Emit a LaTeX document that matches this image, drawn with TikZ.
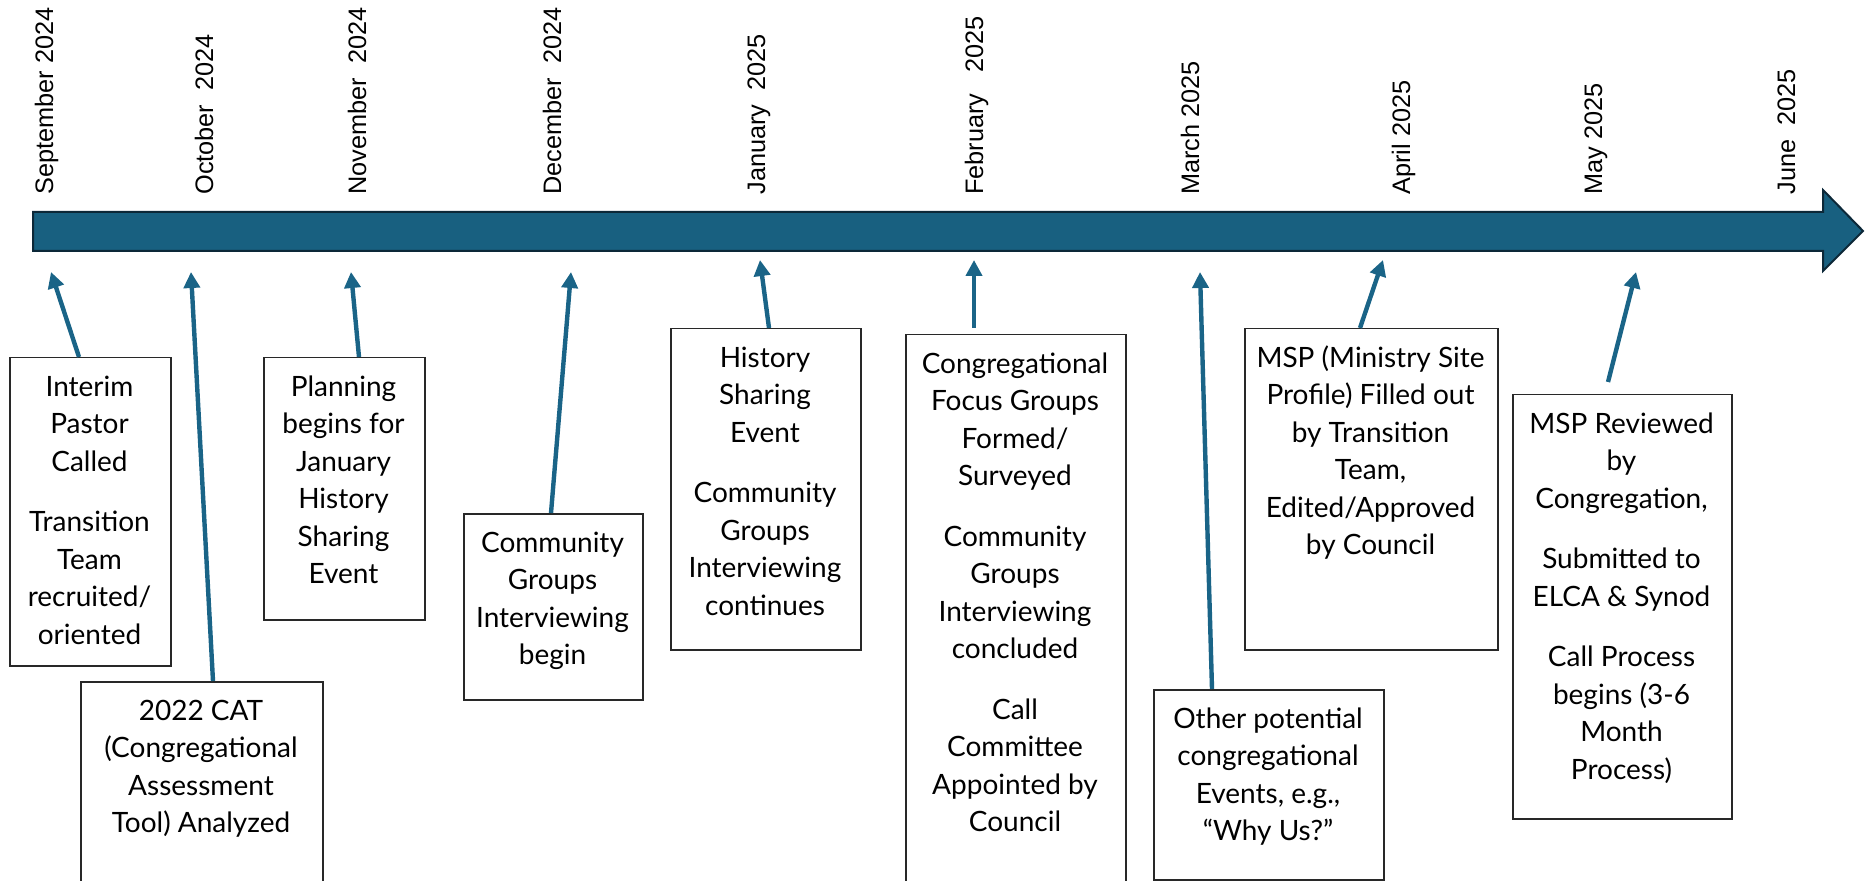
\documentclass[tikz,border=0pt]{standalone}
\usepackage{fontspec}
\setmainfont{Lato}
\newfontfamily\monthfont{Liberation Sans}
\usetikzlibrary{arrows.meta}
\definecolor{shaftfill}{RGB}{24,96,128}
\definecolor{shaftline}{RGB}{12,40,56}
\definecolor{connc}{RGB}{26,100,135}
\definecolor{boxline}{RGB}{40,40,40}
\newcommand\fl{\rule{0pt}{16pt}}
\tikzset{
  x=0.5pt, y=-0.5pt,
  month/.style={rotate=90, anchor=base west, inner sep=0pt, font=\monthfont\fontsize{12.65pt}{15pt}\selectfont},
  evbox/.style={draw=boxline, line width=0.75pt, anchor=north west, inner sep=0pt},
  evtxt/.style={anchor=north, inner sep=0pt, align=center, font=\fontsize{14pt}{18.75pt}\selectfont},
  conn/.style={draw=connc, line width=2.2pt, -{Triangle[length=8pt,width=8pt]}},
}
\begin{document}
\begin{tikzpicture}
\useasboundingbox (0,0) rectangle (1872,881);
\clip (0,0) rectangle (1872,881);
% timeline shaft
\draw[fill=shaftfill, draw=shaftline, line width=1pt, line join=miter]
  (33,212) -- (1823,212) -- (1823,190) -- (1863,231) -- (1823,271) -- (1823,251) -- (33,251) -- cycle;
% months
\node[month] (m1) at (53,195) {September 2024};
\node[month] (m2) at (213,195) {October~~2024};
\node[month] (m3) at (366,195) {November~~2024};
\node[month] (m4) at (561,195) {December~~2024};
\node[month] (m5) at (765,195) {January~~2025};
\node[month] (m6) at (983,195) {February~~~2025};
\node[month] (m7) at (1199,195) {March 2025};
\node[month] (m8) at (1410,195) {April 2025};
\node[month] (m9) at (1602,195) {May 2025};
\node[month] (m10) at (1795,195) {June~~2025};
% tips on the shaft
\coordinate (t1) at (51,272);
\coordinate (t2) at (191,272);
\coordinate (t3) at (351,272);
\coordinate (t4) at (571,272);
\coordinate (t5) at (760,260);
\coordinate (t6) at (974,260);
\coordinate (t7) at (1200,272);
\coordinate (t8) at (1383,260);
\coordinate (t9) at (1636,272);
% boxes
\node[evbox, minimum width=80.5pt, minimum height=154pt] (b1) at (9,357) {};
\node[evtxt] (x1) at (89.5,364) {\fl Interim\\Pastor\\Called\\[11.5pt]Transition\\Team\\recruited/\\oriented};
\node[evbox, minimum width=121pt, minimum height=109.5pt] (b2) at (80,681) {};
\node[evtxt] (x2) at (201,688) {\fl 2022 CAT\\(Congregational\\Assessment\\Tool) Analyzed};
\node[evbox, minimum width=80.5pt, minimum height=131pt] (b3) at (263,357) {};
\node[evtxt] (x3) at (343.5,364) {\fl Planning\\begins for\\January\\History\\Sharing\\Event};
\node[evbox, minimum width=89.5pt, minimum height=93pt] (b4) at (463,513) {};
\node[evtxt] (x4) at (552.5,520) {\fl Community\\Groups\\Interviewing\\begin};
\node[evbox, minimum width=95pt, minimum height=160.5pt] (b5) at (670,328) {};
\node[evtxt] (x5) at (765,335) {\fl History\\Sharing\\Event\\[11.5pt]Community\\Groups\\Interviewing\\continues};
\node[evbox, minimum width=110pt, minimum height=283pt] (b6) at (905,334) {};
\node[evtxt] (x6) at (1015,341) {\fl Congregational\\Focus Groups\\Formed/\\Surveyed\\[11.5pt]Community\\Groups\\Interviewing\\concluded\\[11.5pt]Call\\Committee\\Appointed by\\Council};
\node[evbox, minimum width=115pt, minimum height=95pt] (b7) at (1153,689) {};
\node[evtxt] (x7) at (1268,696) {\fl Other potential\\congregational\\Events, e.g.,\\“Why Us?”};
\node[evbox, minimum width=126.5pt, minimum height=160.5pt] (b8) at (1244,328) {};
\node[evtxt] (x8) at (1370.5,335) {\fl MSP (Ministry Site\\Profile) Filled out\\by Transition\\Team,\\Edited/Approved\\by Council};
\node[evbox, minimum width=109.5pt, minimum height=212pt] (b9) at (1512,394) {};
\node[evtxt] (x9) at (1621.5,401) {\fl MSP Reviewed\\by\\Congregation,\\[11.5pt]Submitted to\\ELCA \& Synod\\[11.5pt]Call Process\\begins (3-6\\Month\\Process)};
% connectors
\draw[conn] (79,0 |- b1.north) -- (t1);
\draw[conn] (213,0 |- b2.north) -- (t2);
\draw[conn] (359,0 |- b3.north) -- (t3);
\draw[conn] (551,0 |- b4.north) -- (t4);
\draw[conn] (769,0 |- b5.north) -- (t5);
\draw[conn] ([yshift=3pt]974,0 |- b6.north) -- (t6);
\draw[conn] (1212,0 |- b7.north) -- (t7);
\draw[conn] (1360,0 |- b8.north) -- (t8);
\draw[conn] ([yshift=6pt]1608,0 |- b9.north) -- (t9);
\end{tikzpicture}
\end{document}
